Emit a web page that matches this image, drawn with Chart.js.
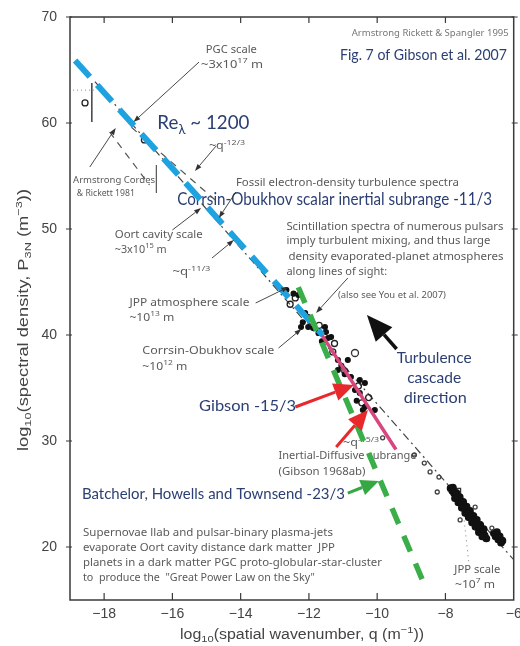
<!DOCTYPE html>
<html>
<head>
<meta charset="utf-8">
<script src="https://cdn.jsdelivr.net/npm/chart.js@4"></script>
<style>
  html, body { margin: 0; padding: 0; background: #fff; }
  #wrap { width: 520px; height: 646px; position: relative; }
</style>
</head>
<body>
<div id="wrap"><canvas id="gibson"></canvas></div>
<script>
// axis ticks (log10 q, log10 P)
var xTicks = [-18, -16, -14, -12, -10, -8, -6];
var yTicks = [20, 30, 40, 50, 60, 70];

// power-law lines, end points
var coX = [-18.85, -11.6];   var coY = [65.9, 40.0];    // Corrsin-Obukhov -11/3 (blue)
var bhtX = [-12.31, -8.61];  var bhtY = [44.5, 16.4];   // Batchelor Howells Townsend -23/3 (green)
var gibX = [-11.66, -9.45];  var gibY = [40.2, 29.2];   // Gibson -15/3 (pink)
var fitX = [-18.27, -6.0];   var fitY = [63.9, 18.8];   // Armstrong Rickett Spangler dash-dot
var q12X = [-17.2, -14.7];   var q12Y = [59.6, 52.6];   // ~q^-12/3 dashed
var acrX = [-17.84, -16.67]; var acrY = [59.15, 54.15]; // Armstrong Cordes Rickett 1981
var barAX = [-18.36, -18.36]; var barAY = [63.77, 60.09];
var barBX = [-16.47, -16.47]; var barBY = [56.04, 53.4];
var dotAX = [-18.91, -18.3];  var dotAY = [63.1, 63.1];
var jppX = [-7.45, -7.3];     var jppY = [22.5, 18.1];

// scintillation points, middle of the range
var midX = [-12.66, -12.31, -12.11, -12.02, -12.23, -11.88, -11.53, -11.50, -11.35, -12.02, -11.44,
            -11.15, -10.86, -11.15, -10.77, -10.51, -10.36, -10.65, -10.51, -10.36, -10.42, -10.07,
            -12.45, -12.18, -11.72, -11.62, -11.05, -10.95, -10.6];
var midY = [44.25, 43.77, 42.08, 41.70, 40.75, 40.66, 40.75, 40.28, 39.81, 40.75, 39.72,
            37.64, 37.64, 36.70, 36.04, 35.75, 35.47, 34.81, 34.53, 33.21, 32.92, 32.92,
            43.9, 41.2, 40.2, 39.4, 37.1, 36.3, 33.8];
var ringX = [-12.4, -11.95, -11.7, -11.25, -10.95, -10.55, -10.25, -10.45, -12.55, -11.3, -18.56, -16.82];
var ringY = [43.5, 41.3, 40.9, 39.2, 36.6, 35.2, 34.1, 33.6, 42.9, 38.4, 61.89, 58.4];
var oddX = [-10.65]; var oddY = [38.3];
var sparseX = [-9.84, -8.91, -8.62, -8.45, -8.19, -7.57, -7.13, -6.64, -8.24];
var sparseY = [30.3, 28.68, 27.92, 27.08, 26.6, 22.55, 23.77, 21.79, 25.19];

// dense cluster near q ~ 1e-7
var farX = [-7.85, -7.80, -7.75, -7.70, -7.65, -7.60, -7.55, -7.50, -7.45, -7.40, -7.35, -7.30, -7.25, -7.20, -7.15, -7.10, -7.05, -7.00, -6.95, -6.90, -6.85, -6.80,
            -7.78, -7.68, -7.58, -7.48, -7.38, -7.28, -7.18, -7.08, -6.98, -6.88,
            -7.72, -7.62, -7.52, -7.42, -7.32, -7.22, -7.12, -7.02, -6.92,
            -6.58, -6.53, -6.49, -6.45, -6.41, -6.37, -6.33];
var farY = [25.55, 25.3, 25.1, 24.85, 24.6, 24.4, 24.2, 23.95, 23.7, 23.5, 23.3, 23.05, 22.8, 22.6, 22.4, 22.2, 21.95, 21.7, 21.5, 21.3, 21.1, 20.8,
            25.6, 25.1, 24.7, 24.25, 23.8, 23.4, 22.95, 22.55, 22.1, 21.7,
            24.6, 24.2, 23.7, 23.2, 22.8, 22.3, 21.9, 21.4, 21.0,
            21.3, 21.0, 21.4, 20.7, 21.0, 20.4, 20.6];
var boxX = [-7.66]; var boxY = [25.2];

function pts(xs, ys) {
  return xs.map(function (x, i) { return { x: x, y: ys[i] }; });
}

var NAVY = '#2b3f73', GRAY = '#5a5a5a';
var SANS = '"Noto Sans", sans-serif', MYR = 'Lato, sans-serif', TICK = '"Liberation Sans", Arial, sans-serif';

// text notes: data position, parts (^ sup, _ sub), size, colour, width in px
var notes = [
  { x: -6.145, y: 68.49, p: ['Armstrong Rickett & Spangler 1995'], s: 9, c: '#777', w: 157, a: 'right' },
  { x: -11.09, y: 66.42, p: ['Fig. 7 of Gibson et al. 2007'], s: 15, c: NAVY, w: 167, f: MYR },
  { x: -15.02, y: 66.89, p: ['PGC scale'], s: 11, c: GRAY, w: 51 },
  { x: -15.16, y: 65.47, p: ['~3x10', '^17', ' m'], s: 11, c: GRAY, w: 62 },
  { x: -16.44, y: 60.0, p: ['Re', '_λ', ' ~ 1200'], s: 20, c: NAVY, w: 92, f: MYR },
  { x: -14.93, y: 57.83, p: ['~q', '^-12/3'], s: 10, c: GRAY, w: 36 },
  { x: -18.91, y: 54.62, p: ['Armstrong Cordes'], s: 9, c: GRAY, w: 82 },
  { x: -18.8, y: 53.4, p: ['& Rickett 1981'], s: 9, c: GRAY, w: 58 },
  { x: -14.14, y: 54.34, p: ['Fossil electron-density turbulence spectra'], s: 11, c: GRAY, w: 223 },
  { x: -15.86, y: 52.74, p: ['Corrsin-Obukhov scalar inertial subrange -11/3'], s: 17, c: NAVY, w: 315, f: MYR },
  { x: -17.69, y: 49.43, p: ['Oort cavity scale'], s: 11, c: GRAY, w: 88 },
  { x: -17.69, y: 48.02, p: ['~3x10', '^15', ' m'], s: 11, c: GRAY, w: 52 },
  { x: -16.0, y: 45.94, p: ['~q', '^-11/3'], s: 10, c: GRAY, w: 38 },
  { x: -17.26, y: 43.02, p: ['JPP atmosphere scale'], s: 11, c: GRAY, w: 120 },
  { x: -17.26, y: 41.6, p: ['~10', '^13', ' m'], s: 11, c: GRAY, w: 45 },
  { x: -16.88, y: 38.49, p: ['Corrsin-Obukhov scale'], s: 11, c: GRAY, w: 132 },
  { x: -16.88, y: 36.98, p: ['~10', '^12', ' m'], s: 11, c: GRAY, w: 45 },
  { x: -12.66, y: 50.19, p: ['Scintillation spectra of numerous pulsars'], s: 11, c: GRAY, w: 217 },
  { x: -12.66, y: 48.87, p: ['imply turbulent mixing, and thus large'], s: 11, c: GRAY, w: 204 },
  { x: -12.6, y: 47.36, p: ['density evaporated-planet atmospheres'], s: 11, c: GRAY, w: 215 },
  { x: -12.66, y: 45.94, p: ['along lines of sight:'], s: 11, c: GRAY },
  { x: -11.15, y: 43.68, p: ['(also see You et al. 2007)'], s: 8, c: GRAY, w: 108 },
  { x: -8.33, y: 37.83, p: ['Turbulence'], s: 16, c: NAVY, w: 75, a: 'center', f: MYR },
  { x: -8.33, y: 35.94, p: ['cascade'], s: 16, c: NAVY, w: 54, a: 'center', f: MYR },
  { x: -8.3, y: 34.06, p: ['direction'], s: 16, c: NAVY, w: 63, a: 'center', f: MYR },
  { x: -15.22, y: 33.3, p: ['Gibson -15/3'], s: 16, c: NAVY, w: 97, f: MYR },
  { x: -11.0, y: 29.81, p: ['~q', '^-15/3'], s: 10, c: GRAY, w: 36 },
  { x: -12.89, y: 28.58, p: ['Inertial-Diffusive subrange'], s: 11, c: GRAY, w: 138 },
  { x: -12.89, y: 27.08, p: ['(Gibson 1968ab)'], s: 11, c: GRAY, w: 87 },
  { x: -18.65, y: 25.0, p: ['Batchelor, Howells and Townsend -23/3'], s: 16, c: NAVY, w: 263, f: MYR },
  { x: -18.62, y: 21.32, p: ['Supernovae llab and pulsar-binary plasma-jets'], s: 11, c: GRAY, w: 250 },
  { x: -18.62, y: 19.91, p: ['evaporate Oort cavity distance dark matter  JPP'], s: 11, c: GRAY, w: 252 },
  { x: -18.62, y: 18.49, p: ['planets in a dark matter PGC proto-globular-star-cluster'], s: 11, c: GRAY, w: 299 },
  { x: -18.62, y: 17.08, p: ['to  produce the  "Great Power Law on the Sky"'], s: 11, c: GRAY, w: 232 },
  { x: -7.74, y: 17.83, p: ['JPP scale'], s: 11, c: GRAY, w: 46 },
  { x: -7.72, y: 16.42, p: ['~10', '^7', ' m'], s: 11, c: GRAY, w: 40 }
];

// arrows: from -> to in data units, kind
var arrows = [
  [-15.22, 65.75, -17.14, 60.09, 'thin'],
  [-18.42, 55.85, -17.66, 59.53, 'thin'],
  [-14.72, 57.83, -15.34, 55.47, 'thin'],
  [-14.14, 53.49, -14.64, 51.04, 'thin'],
  [-16.0, 49.91, -15.16, 51.98, 'thin'],
  [-14.84, 47.26, -14.2, 48.96, 'thin'],
  [-13.56, 43.02, -12.6, 44.53, 'thin'],
  [-12.89, 38.77, -12.22, 40.57, 'thin'],
  [-10.86, 45.38, -11.79, 42.08, 'thin'],
  [-9.43, 38.68, -10.3, 41.89, 'black'],
  [-12.4, 33.21, -10.68, 35.28, 'red'],
  [-11.2, 29.43, -10.27, 32.92, 'red'],
  [-10.86, 25.09, -9.95, 26.23, 'green']
];
var arrowStyle = {
  thin: { c: '#333', lw: 0.9, hl: 7, hw: 5 },
  black: { c: '#111', lw: 3.5, hl: 26, hw: 22 },
  red: { c: '#e8282b', lw: 3, hl: 20, hw: 18 },
  green: { c: '#35a844', lw: 3, hl: 18, hw: 16 }
};

function rich(ctx, parts, x, cy, size, family, color, w, align) {
  ctx.save();
  ctx.fillStyle = color;
  ctx.textBaseline = 'middle';
  var segs = parts.map(function (p) {
    var mode = p.charAt(0) === '^' ? 'sup' : (p.charAt(0) === '_' ? 'sub' : 'n');
    var t = mode === 'n' ? p : p.slice(1);
    var fs = mode === 'n' ? size : size * 0.7;
    ctx.font = fs + 'px ' + family;
    return { t: t, fs: fs, dy: mode === 'sup' ? -size * 0.35 : (mode === 'sub' ? size * 0.3 : 0), w: ctx.measureText(t).width };
  });
  var total = segs.reduce(function (a, s) { return a + s.w; }, 0);
  var k = w ? w / total : 1;
  var x0 = align === 'right' ? x - total * k : (align === 'center' ? x - total * k / 2 : x);
  ctx.translate(x0, cy);
  ctx.scale(k, 1);
  var cx = 0;
  segs.forEach(function (s) {
    ctx.font = s.fs + 'px ' + family;
    ctx.fillText(s.t, cx, s.dy);
    cx += s.w;
  });
  ctx.restore();
}

function arrow(ctx, x1, y1, x2, y2, st) {
  var ang = Math.atan2(y2 - y1, x2 - x1);
  var bx = x2 - Math.cos(ang) * st.hl, by = y2 - Math.sin(ang) * st.hl;
  ctx.save();
  ctx.strokeStyle = st.c; ctx.fillStyle = st.c; ctx.lineWidth = st.lw;
  ctx.beginPath(); ctx.moveTo(x1, y1); ctx.lineTo(bx, by); ctx.stroke();
  ctx.beginPath();
  ctx.moveTo(x2, y2);
  ctx.lineTo(bx + Math.sin(ang) * st.hw / 2, by - Math.cos(ang) * st.hw / 2);
  ctx.lineTo(bx - Math.sin(ang) * st.hw / 2, by + Math.cos(ang) * st.hw / 2);
  ctx.closePath(); ctx.fill();
  ctx.restore();
}

var frame = {
  id: 'frame',
  beforeDatasetsDraw: function (chart) {
    var ctx = chart.ctx, xs = chart.scales.x, ys = chart.scales.y;
    notes.forEach(function (n) {
      rich(ctx, n.p, xs.getPixelForValue(n.x), ys.getPixelForValue(n.y), n.s, n.f || SANS, n.c, n.w, n.a);
    });
  },
  afterDatasetsDraw: function (chart) {
    var ctx = chart.ctx, xs = chart.scales.x, ys = chart.scales.y, ca = chart.chartArea;
    arrows.forEach(function (a) {
      arrow(ctx, xs.getPixelForValue(a[0]), ys.getPixelForValue(a[1]),
            xs.getPixelForValue(a[2]), ys.getPixelForValue(a[3]), arrowStyle[a[4]]);
    });
    ctx.save();
    ctx.strokeStyle = '#3a3a3a';
    ctx.lineWidth = 1.5;
    ctx.strokeRect(ca.left, ca.top, ca.right - ca.left, ca.bottom - ca.top);
    ctx.lineWidth = 1.2;
    ctx.beginPath();
    xTicks.forEach(function (v) {
      var px = xs.getPixelForValue(v);
      if (v === -6) return;
      ctx.moveTo(px, ca.bottom); ctx.lineTo(px, ca.bottom - 7);
      ctx.moveTo(px, ca.top); ctx.lineTo(px, ca.top + 6);
    });
    yTicks.forEach(function (v) {
      var py = ys.getPixelForValue(v);
      ctx.moveTo(ca.left - 4, py); ctx.lineTo(ca.left + 2, py);
      ctx.moveTo(ca.right - 2, py); ctx.lineTo(ca.right + 4, py);
    });
    ctx.stroke();
    ctx.restore();
    // axis titles
    rich(ctx, ['log', '_10', '(spatial wavenumber, q (m', '^−1', '))'], ca.left + 232, 635, 14, TICK, '#444', 244, 'center');
    ctx.save();
    ctx.translate(24, 320);
    ctx.rotate(-Math.PI / 2);
    rich(ctx, ['log', '_10', '(spectral density, P', '_3N', ' (m', '^−3', '))'], 0, 0, 14, TICK, '#444', 262, 'center');
    ctx.restore();
  }
};

function line(data, color, width, dash, order) {
  return { data: data, showLine: true, borderColor: color, borderWidth: width, borderDash: dash,
           pointRadius: 0, fill: false, order: order };
}
function dots(data, bg, border, r, style, order) {
  return { data: data, showLine: false, backgroundColor: bg, borderColor: border, borderWidth: 1.3,
           pointRadius: r, pointStyle: style || 'circle', order: order };
}

new Chart('gibson', {
  type: 'scatter',
  data: {
    datasets: [
      line(pts(bhtX, bhtY), '#3aae48', 5.5, [17, 13], 0),
      line(pts(coX, coY), '#1fa2e0', 6, [22, 11], 1),
      line(pts(gibX, gibY), '#d8467f', 3.5, [], 2),
      dots(pts(midX, midY), '#111', '#111', 2.4, 'circle', 3),
      dots(pts(ringX, ringY), 'rgba(0,0,0,0)', '#222', 3, 'circle', 3),
      dots(pts(oddX, oddY), 'rgba(0,0,0,0)', '#333', 3.5, 'circle', 3),
      dots(pts(sparseX, sparseY), 'rgba(0,0,0,0)', '#444', 2, 'circle', 3),
      dots(pts(farX, farY), '#111', '#111', 3.2, 'circle', 3),
      dots(pts(boxX, boxY), 'rgba(0,0,0,0)', '#333', 5, 'rect', 3),
      line(pts(fitX, fitY), '#444', 1.2, [8, 4, 2, 4], 4),
      line(pts(q12X, q12Y), '#555', 1.2, [7, 6], 4),
      line(pts(acrX, acrY), '#555', 1.2, [7, 6], 4),
      line(pts(barAX, barAY), '#333', 1.4, [], 4),
      line(pts(barBX, barBY), '#555', 1.2, [], 4),
      line(pts(dotAX, dotAY), '#888', 1, [1, 3], 4),
      line(pts(jppX, jppY), '#777', 1, [1, 4], 4)
    ]
  },
  options: {
    responsive: true,
    maintainAspectRatio: false,
    animation: false,
    events: [],
    layout: { padding: { top: 17, right: 3, left: 0, bottom: 0 } },
    plugins: { legend: { display: false }, tooltip: { enabled: false } },
    scales: {
      x: {
        type: 'linear', min: -19, max: -6,
        grid: { display: false, drawTicks: false },
        border: { display: false },
        afterBuildTicks: function (s) { s.ticks = xTicks.map(function (v) { return { value: v }; }); },
        afterFit: function (s) { s.height = 46; s.paddingLeft = 0; s.paddingRight = 0; },
        ticks: {
          padding: 6, maxRotation: 0, autoSkip: false, color: '#444',
          font: { family: TICK, size: 14 },
          callback: function (v) { return (v < 0 ? '\u2212' : '') + Math.abs(v); }
        }
      },
      y: {
        type: 'linear', min: 15, max: 70,
        grid: { display: false, drawTicks: false },
        border: { display: false },
        afterBuildTicks: function (s) { s.ticks = yTicks.map(function (v) { return { value: v }; }); },
        afterFit: function (s) { s.width = 70; s.paddingTop = 0; s.paddingBottom = 0; },
        ticks: { padding: 13, autoSkip: false, color: '#444', font: { family: TICK, size: 14 } }
      }
    }
  },
  plugins: [frame]
});
</script>
</body>
</html>
